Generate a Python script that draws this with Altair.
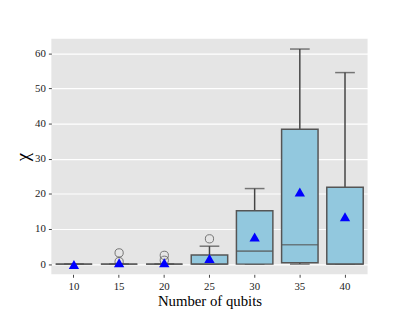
import altair as alt
import pandas as pd

qubits = ["10", "15", "20", "25", "30", "35", "40"]
whisker_low = [0.0, 0.0, 0.0, 0.0, 0.0, 0.0, 0.0]
q1 = [0.0, 0.0, 0.0, 0.0, 0.0, 0.4, 0.0]
median = [0.0, 0.0, 0.0, 0.0, 3.7, 5.5, 0.0]
q3 = [0.0, 0.0, 0.0, 2.6, 15.2, 38.4, 21.9]
whisker_high = [0.0, 0.0, 0.0, 5.1, 21.5, 61.2, 54.5]
means = [-0.1, 0.4, 0.4, 1.6, 7.7, 20.5, 13.5]
outlier_x = ["15", "15", "20", "20", "25"]
outlier_y = [3.2, 0.7, 2.5, 1.1, 7.2]

box = pd.DataFrame({"q": qubits, "lo": whisker_low, "q1": q1, "med": median,
                    "q3": q3, "hi": whisker_high, "mean": means})
out = pd.DataFrame({"q": outlier_x, "v": outlier_y})

FONT = "Liberation Serif"
ydom = [-2.9, 64.1]
xaxis = alt.Axis(labelAngle=0, labelFont=FONT, labelFontSize=11, labelColor="#222",
                 titleFont=FONT, titleFontSize=15, titleColor="#000", titleFontWeight="normal",
                 tickColor="#444", tickSize=3, domain=False, grid=False, labelPadding=3,
                 titlePadding=3)
yscale = alt.Scale(domain=ydom, nice=False, zero=False)
yaxis = alt.Axis(values=[0, 10, 20, 30, 40, 50, 60], labelFont=FONT, labelFontSize=11, labelColor="#222",
                 titleFont=FONT, titleFontSize=19, titleColor="#000", titleFontWeight="normal",
                 tickColor="#444", tickSize=3, domain=False, grid=True, gridColor="white",
                 gridWidth=1.2, labelPadding=3, titlePadding=2, labelOverlap=False)


def X():
    return alt.X("q:O", sort=qubits, title="Number of qubits",
                 scale=alt.Scale(paddingInner=0, paddingOuter=0), axis=xaxis)


def Y(field):
    return alt.Y(field, scale=yscale, axis=yaxis, title="χ")


base = alt.Chart(box)
upper = base.mark_rule(color="#444", strokeWidth=1.5).encode(x=X(), y=Y("q3:Q"), y2="hi:Q")
lower = base.mark_rule(color="#444", strokeWidth=1.5).encode(x=X(), y=Y("lo:Q"), y2="q1:Q")
caps_hi = base.mark_tick(color="#444", thickness=1.5, size=20, orient="horizontal").encode(
    x=X(), y=Y("hi:Q"))
caps_lo = base.mark_tick(color="#444", thickness=1.5, size=20, orient="horizontal").encode(
    x=X(), y=Y("lo:Q"))
bars = base.mark_bar(fill="#92C8DE", stroke="#555555", strokeWidth=1.5, size=37).encode(
    x=X(), y=Y("q1:Q"), y2="q3:Q")
med = base.mark_tick(color="#555555", thickness=1.6, size=37, orient="horizontal").encode(
    x=X(), y=Y("med:Q"))
outl = alt.Chart(out).mark_point(shape="circle", filled=False, color="#444", size=70, strokeWidth=1).encode(
    x=X(), y=Y("v:Q"))
mn = base.mark_point(shape="triangle-up", filled=True, color="#0000FF", opacity=1, size=110).encode(
    x=X(), y=Y("mean:Q"))

chart = alt.layer(upper, lower, caps_hi, caps_lo, bars, med, outl, mn).properties(
    width=321, height=239,
    autosize=alt.AutoSizeParams(type="none"),
    padding={"left": 44, "top": 29, "right": 40, "bottom": 40},
).configure_view(fill="#E5E5E5", stroke=None)

chart.save("out.html", embed_options={"renderer": "svg", "actions": False})
